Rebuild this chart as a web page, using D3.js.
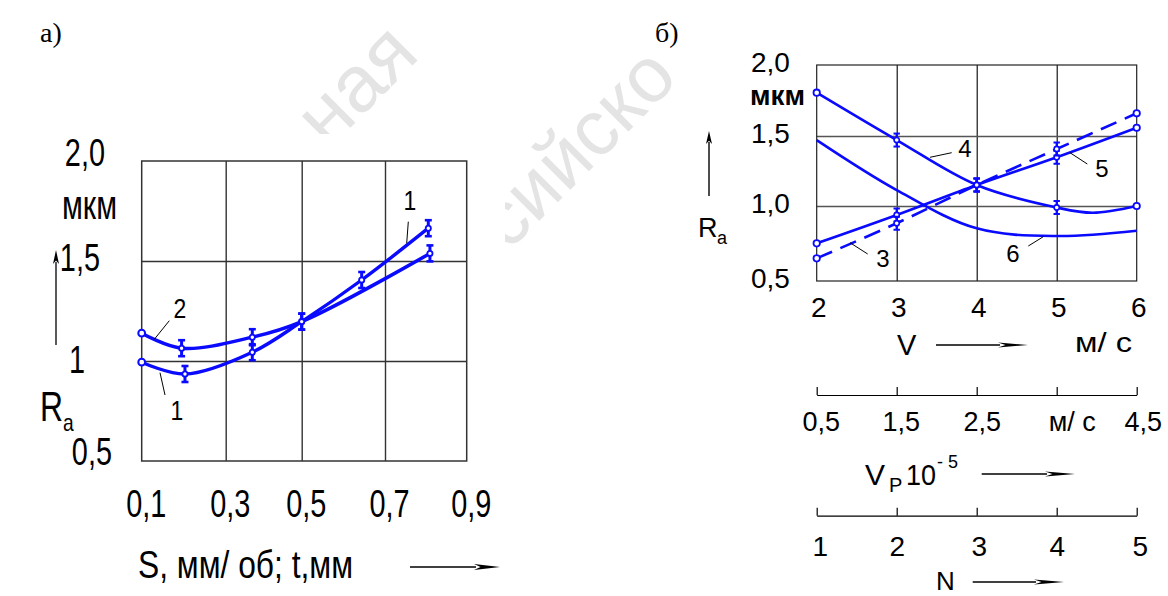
<!DOCTYPE html>
<html><head><meta charset="utf-8">
<script src="https://cdn.jsdelivr.net/npm/d3@7"></script>
<style>body{margin:0;background:#fff} svg{display:block}</style>
</head><body>
<svg id="c" width="1168" height="596"></svg>
<script>
// ---------- data: chart а) ----------
const sTicks = [0.1, 0.3, 0.5, 0.7, 0.9];
const sTickLabels = ["0,1", "0,3", "0,5", "0,7", "0,9"];
const raTicksA = [2.0, 1.5, 1.0, 0.5];
const raTickLabelsA = ["2,0", "1,5", "1", "0,5"];
const curve1S  = [0.1, 0.203, 0.37, 0.5, 0.644, 0.806];
const curve1Ra = [0.994, 0.935, 1.044, 1.197, 1.405, 1.664];
const curve1Marks = ["o", "e", "e", "e", "e", "e"];
const curve2S  = [0.1, 0.195, 0.37, 0.5, 0.81];
const curve2Ra = [1.139, 1.064, 1.119, 1.197, 1.538];
const curve2Marks = ["o", "e", "e", "e", "e"];
// ---------- data: chart б) ----------
const vTicks = [2, 3, 4, 5, 6];
const vTickLabels = ["2", "3", "4", "5", "6"];
const raTicksB = [2.0, 1.5, 1.0, 0.5];
const raTickLabelsB = ["2,0", "1,5", "1,0", "0,5"];
const vpTicks = [0.5, 1.5, 2.5, 3.5, 4.5];
const vpTickLabels = ["0,5", "1,5", "2,5", "м/ с", "4,5"];
const nTicks = [1, 2, 3, 4, 5];
const nTickLabels = ["1", "2", "3", "4", "5"];
const curve3V  = [2, 3, 4, 5, 6];
const curve3Ra = [0.651, 0.885, 1.15, 1.407, 1.66];
const curve3Marks = ["o", "e", "e", "e", "o"];
const curve4V  = [2, 3, 4, 5, 5.45, 6];
const curve4Ra = [1.805, 1.471, 1.15, 0.99, 0.955, 1.0];
const curve4Marks = ["o", "e", "e", "e", "", "o"];
const curve5V  = [2, 3, 4, 5, 6];
const curve5Ra = [0.751, 0.94, 1.15, 1.348, 1.558];
const curve5Marks = ["o", "e", "e", "e", "o"];
const curve6V  = [2, 3, 4, 5, 6];
const curve6Ra = [1.471, 1.114, 0.851, 0.80, 0.835];

const BLUE = "#0a0aff";
const SANS = "'Liberation Sans', Arial, sans-serif";
const SERIF = "'Liberation Serif', 'Times New Roman', serif";
const svg = d3.select("#c");

// ---------- watermark (behind chart panels) ----------
const wm = svg.append("g").attr("fill", "#e4e4e4").attr("font-family", SANS);
wm.append("text").attr("font-size", 80).attr("transform", "translate(328,150) rotate(-45)").text("ная");
wm.append("text").attr("font-size", 78).attr("transform", "translate(508,252) rotate(-45)").text("сийско");
svg.append("rect").attr("x", 40).attr("y", 134).attr("width", 465).attr("height", 462).attr("fill", "#fff");
svg.append("rect").attr("x", 697).attr("y", 50).attr("width", 471).attr("height", 546).attr("fill", "#fff");

// helpers
function arrow(g, x1, y1, x2, y2, len, half, w) {
  const dx = x2 - x1, dy = y2 - y1, L = Math.hypot(dx, dy), ux = dx / L, uy = dy / L;
  const bx = x2 - ux * len, by = y2 - uy * len;
  g.append("line").attr("x1", x1).attr("y1", y1).attr("x2", bx + ux * 2).attr("y2", by + uy * 2)
    .attr("stroke", "#000").attr("stroke-width", w);
  g.append("path").attr("d", `M${x2},${y2}L${bx - uy * half},${by + ux * half}L${bx + ux * len * 0.25},${by + uy * len * 0.25}L${bx + uy * half},${by - ux * half}Z`)
    .attr("fill", "#000");
}
function txt(g, x, y, s, size, opts = {}) {
  const t = g.append("text")
    .attr("transform", `translate(${x},${y}) scale(${opts.sx || 1},1)`)
    .attr("font-family", opts.family || SANS).attr("font-size", size)
    .attr("text-anchor", opts.anchor || "start").attr("fill", "#000")
    .attr("font-weight", opts.weight || "normal").text(s);
  if (opts.len) t.attr("textLength", opts.len).attr("lengthAdjust", "spacingAndGlyphs");
  return t;
}
function leader(g, x1, y1, x2, y2) {
  g.append("line").attr("x1", x1).attr("y1", y1).attr("x2", x2).attr("y2", y2)
    .attr("stroke", "#000").attr("stroke-width", 1);
}
function drawMarks(g, xs, ys, kinds, xs_, ys_, p) {
  xs.forEach((xv, i) => {
    const k = kinds[i]; if (!k) return;
    const cx = xs_(xv), cy = ys_(ys[i]);
    if (k === "e") {
      g.append("line").attr("x1", cx).attr("x2", cx).attr("y1", cy - p.eh).attr("y2", cy + p.eh)
        .attr("stroke", BLUE).attr("stroke-width", p.ew);
      [-1, 1].forEach(s => g.append("line").attr("x1", cx - p.cw).attr("x2", cx + p.cw)
        .attr("y1", cy + s * p.eh).attr("y2", cy + s * p.eh).attr("stroke", BLUE).attr("stroke-width", p.cs));
      g.append("circle").attr("cx", cx).attr("cy", cy).attr("r", p.er).attr("fill", "#fff")
        .attr("stroke", BLUE).attr("stroke-width", p.es);
    } else {
      g.append("circle").attr("cx", cx).attr("cy", cy).attr("r", p.r).attr("fill", "#fff")
        .attr("stroke", BLUE).attr("stroke-width", p.s);
    }
  });
}

// ====================== chart а) ======================
const gA = svg.append("g");
const xA = d3.scaleLinear().domain([0.1, 0.3, 0.5, 0.7, 0.9]).range([141.7, 225.7, 301.7, 385, 466.7]);
const yA = d3.scaleLinear().domain([0.5, 2.0]).range([461, 161]);
// grid
gA.append("g").attr("transform", "translate(0,461)")
  .call(d3.axisBottom(xA).tickValues(sTicks.slice(1, -1)).tickSize(-300).tickFormat(""))
  .call(g => g.select(".domain").remove())
  .selectAll("line").attr("stroke", "#333").attr("stroke-width", 1.4);
gA.append("g").attr("transform", "translate(141.7,0)")
  .call(d3.axisLeft(yA).tickValues([1.0, 1.5]).tickSize(-325).tickFormat(""))
  .call(g => g.select(".domain").remove())
  .selectAll("line").attr("stroke", "#333").attr("stroke-width", 1.4);
gA.append("rect").attr("x", xA(0.1)).attr("y", yA(2.0)).attr("width", xA(0.9) - xA(0.1))
  .attr("height", yA(0.5) - yA(2.0)).attr("fill", "none").attr("stroke", "#333").attr("stroke-width", 1.5);
// x tick labels
const axA = gA.append("g").attr("transform", "translate(0,461)")
  .call(d3.axisBottom(xA).tickValues(sTicks).tickSize(0).tickPadding(0)
    .tickFormat((d, i) => sTickLabels[i]));
axA.select(".domain").remove();
axA.selectAll("text").attr("font-family", SANS).attr("font-size", 38).attr("fill", "#000")
  .attr("y", 56).attr("dy", 0).attr("transform", "translate(4,0) scale(0.76,1)");
// y tick labels
const yLabEnd = [105, 100, 85, 112], yLabDy = [5, 10, 12, 4];
raTicksA.forEach((v, i) => txt(gA, yLabEnd[i], yA(v) + yLabDy[i], raTickLabelsA[i], 38, { sx: 0.76, anchor: "end" }));
txt(gA, 117, 219, "мкм", 40, { anchor: "end", len: 55 });
// R_a
txt(gA, 40, 421, "R", 42, { sx: 0.76 });
txt(gA, 63, 431, "a", 24, { sx: 0.8 });
arrow(gA, 56, 345, 56, 250, 14, 3, 1.3);
// x label
txt(gA, 138, 578, "S, мм/ об; t,мм", 38, { len: 215 });
arrow(gA, 410, 567, 500, 567, 26, 3, 1.3);
// curves
const lineA = d3.line().x(d => xA(d[0])).y(d => yA(d[1])).curve(d3.curveCatmullRom.alpha(0.5));
[[curve1S, curve1Ra], [curve2S, curve2Ra]].forEach(([xs, ys]) =>
  gA.append("path").attr("d", lineA(xs.map((x, i) => [x, ys[i]]))).attr("fill", "none")
    .attr("stroke", BLUE).attr("stroke-width", 3.4));
const pA = { r: 3.4, s: 2, eh: 8, ew: 3, cw: 3.5, cs: 2.6, er: 2.6, es: 1.8 };
drawMarks(gA, curve1S, curve1Ra, curve1Marks, xA, yA, pA);
drawMarks(gA, curve2S, curve2Ra, curve2Marks, xA, yA, pA);
// labels
txt(gA, 180, 318, "2", 28, { sx: 0.82, anchor: "middle" });
leader(gA, 169.3, 320.7, 154.3, 339.3);
txt(gA, 177, 420, "1", 28, { sx: 0.82, anchor: "middle" });
leader(gA, 160, 372.7, 165, 395);
txt(gA, 410, 210, "1", 28, { sx: 0.82, anchor: "middle" });
leader(gA, 408.3, 221.7, 406.7, 243.3);
txt(gA, 40, 42, "а)", 28, { family: SERIF });

// ====================== chart б) ======================
const gB = svg.append("g");
const xB = d3.scaleLinear().domain([2, 6]).range([816.7, 1136.7]);
const yB = d3.scaleLinear().domain([0.5, 1.0, 1.5, 2.0]).range([281, 206, 136, 65]);
gB.append("g").attr("transform", "translate(0,281)")
  .call(d3.axisBottom(xB).tickValues(vTicks.slice(1, -1)).tickSize(-216).tickFormat(""))
  .call(g => g.select(".domain").remove())
  .selectAll("line").attr("stroke", "#000").attr("stroke-width", 1.1);
gB.append("g").attr("transform", "translate(816.7,0)")
  .call(d3.axisLeft(yB).tickValues([1.0, 1.5]).tickSize(-320).tickFormat(""))
  .call(g => g.select(".domain").remove())
  .selectAll("line").attr("stroke", "#555").attr("stroke-width", 1.3);
gB.append("rect").attr("x", xB(2)).attr("y", yB(2)).attr("width", xB(6) - xB(2))
  .attr("height", yB(0.5) - yB(2)).attr("fill", "none").attr("stroke", "#222").attr("stroke-width", 1.2);
// x tick labels
const axB = gB.append("g").attr("transform", "translate(0,281)")
  .call(d3.axisBottom(xB).tickValues(vTicks).tickSize(0).tickPadding(0).tickFormat((d, i) => vTickLabels[i]));
axB.select(".domain").remove();
axB.selectAll("text").attr("font-family", SANS).attr("font-size", 28).attr("fill", "#000")
  .attr("y", 36).attr("dy", 0).attr("x", 1.5);
// y tick labels
raTicksB.forEach((v, i) => txt(gB, 751, yB(v) + 7, raTickLabelsB[i], 28));
txt(gB, 750, 105, "мкм", 27, { weight: "bold", len: 55 });
txt(gB, 698, 237, "R", 27);
txt(gB, 717, 244, "a", 18);
arrow(gB, 709, 196, 709, 131, 13, 3, 1.4);
txt(gB, 897, 355, "V", 29);
arrow(gB, 936, 345, 1028, 345, 30, 2.6, 1.3);
txt(gB, 1075, 352, "м/ с", 28, { len: 57 });
// lower axes
function lowerAxis(y, ticks, labels, baseline, size, dxs) {
  const sc = d3.scaleLinear().domain([ticks[0], ticks[ticks.length - 1]]).range([816.7, 1136.7]);
  const a = gB.append("g").attr("transform", `translate(0,${y})`)
    .call(d3.axisBottom(sc).tickValues(ticks).tickSizeInner(-8).tickSizeOuter(0).tickPadding(0)
      .tickFormat((d, i) => labels[i]));
  a.select(".domain").attr("stroke", "#000").attr("stroke-width", 1.2);
  a.selectAll("line").attr("stroke", "#000").attr("stroke-width", 1.2);
  a.selectAll("text").attr("font-family", SANS).attr("font-size", size).attr("fill", "#000")
    .attr("y", baseline).attr("dy", 0).attr("x", (d, i) => dxs[i]);
}
lowerAxis(395, vpTicks, vpTickLabels, 36, 27, [4, 4, 5, 15, 6]);
lowerAxis(515.7, nTicks, nTickLabels, 40, 28, [3, 0, 2, 0, 3]);
txt(gB, 865, 485, "V", 30);
txt(gB, 889, 492, "P", 20);
txt(gB, 906, 485, "10", 30, { len: 30 });
txt(gB, 937, 468, "- 5", 18);
arrow(gB, 981.7, 474, 1075, 474, 30, 2.6, 1.3);
txt(gB, 936, 590, "N", 26);
arrow(gB, 972.7, 582, 1064, 582, 30, 2.6, 1.3);
txt(gB, 655, 42, "б)", 28, { family: SERIF });
// curves
const lineB = d3.line().x(d => xB(d[0])).y(d => yB(d[1])).curve(d3.curveCatmullRom.alpha(0.5));
const series = [
  [curve6V, curve6Ra, null],
  [curve4V, curve4Ra, null],
  [curve5V, curve5Ra, null],
  [curve3V, curve3Ra, "17,9"]
];
series.forEach(([xs, ys, dash]) => {
  const p = gB.append("path").attr("d", lineB(xs.map((x, i) => [x, ys[i]]))).attr("fill", "none")
    .attr("stroke", BLUE).attr("stroke-width", 2.6);
  if (dash) p.attr("stroke-dasharray", dash);
});
const pB = { r: 3.2, s: 1.8, eh: 6.5, ew: 2.2, cw: 3.2, cs: 2, er: 2.6, es: 1.6 };
drawMarks(gB, curve4V, curve4Ra, curve4Marks, xB, yB, pB);
drawMarks(gB, curve5V, curve5Ra, curve5Marks, xB, yB, pB);
drawMarks(gB, curve3V, curve3Ra, curve3Marks, xB, yB, pB);
// labels
txt(gB, 965, 157, "4", 24, { anchor: "middle" });
leader(gB, 930, 157.3, 951.7, 152.7);
txt(gB, 1102, 177, "5", 24, { anchor: "middle" });
leader(gB, 1070, 152.7, 1087.3, 164);
txt(gB, 883, 267, "3", 24, { anchor: "middle" });
leader(gB, 850, 242.7, 867.7, 254);
txt(gB, 1013, 262, "6", 24, { anchor: "middle" });
leader(gB, 1028.3, 246, 1043.3, 236.7);
</script>
</body></html>
